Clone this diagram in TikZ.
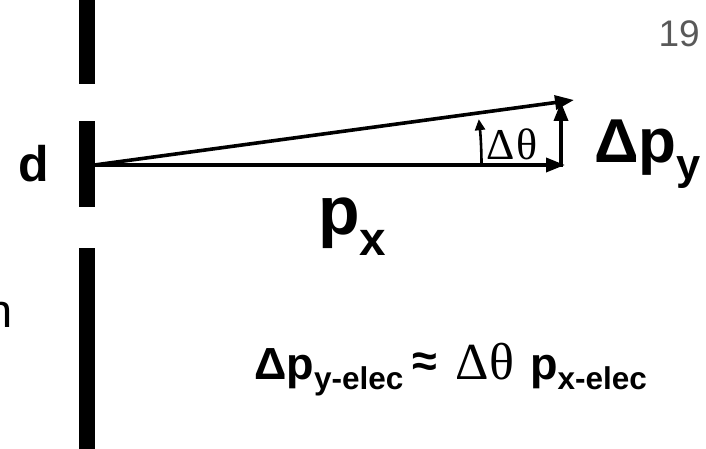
\documentclass[tikz,border=0pt]{standalone}
\usepackage{fontspec}
\setmainfont{Liberation Sans}
\newfontfamily\symfont{Liberation Serif}
\usepackage{tikz}
\usetikzlibrary{arrows.meta}
\newcommand{\lowsub}[2][0.27]{\raisebox{-#1em}{\scalebox{0.7}{#2}}}

\begin{document}
\begin{tikzpicture}[x=1pt,y=1pt,
  vec/.style={line width=3.6pt,-{Triangle[length=19pt,width=14pt]}},
  barrier/.style={fill=black},
  lbl/.style={inner sep=0pt,font=\bfseries}]
\useasboundingbox (0,0) rectangle (706,449);
\fill[barrier] (78.5,365) rectangle (94.5,449);
\fill[barrier] (78.5,242) rectangle (94.5,328);
\fill[barrier] (78.5,0) rectangle (94.5,201);
\coordinate (o) at (94.5,284);
\coordinate (h) at (565,284);
\coordinate (foot) at (561,282);
\coordinate (top) at (561,347);
\coordinate (tip) at (574,349);
\draw[vec] (o) -- (h);
\draw[vec] (o) -- (tip);
\draw[vec] (foot) -- (top);
\draw[line width=2.6pt,-{Triangle[length=11pt,width=10pt]}] ([shift={(0:387)}]o) arc[start angle=0,end angle=6.8,radius=387];
\node[lbl,anchor=base west,font=\fontsize{50}{60}\selectfont\bfseries] (d) at (18,267) {d};
\node[inner sep=0pt,anchor=base west,font=\fontsize{44}{50}\selectfont\symfont] (dtheta) at (486,289) {Δ\kern0.04emθ};
\node[lbl,anchor=base west,font=\fontsize{62}{72}\selectfont\bfseries] (dpy) at (594,286) {Δp\lowsub{y}};
\node[lbl,anchor=base west,font=\fontsize{68}{80}\selectfont\bfseries] (px) at (318,214) {p\lowsub[0.3]{x}};
\node[lbl,anchor=base west,font=\fontsize{45}{54}\selectfont\bfseries] (rel) at (254,69)
  {Δp\lowsub[0.22]{y-elec}\hspace{0.2em}\raisebox{0.08em}{≈}\hspace{0.42em}{\fontsize{52}{60}\selectfont\symfont\mdseries Δθ}\hspace{0.35em}p\lowsub[0.22]{x-elec}};
\node[inner sep=0pt,anchor=base east,text=black!65,font=\fontsize{37}{44}\selectfont] (page) at (700,402) {19};
\node[inner sep=0pt,anchor=base east,font=\fontsize{47}{56}\selectfont] (cut) at (13,121) {n};
\end{tikzpicture}
\end{document}
